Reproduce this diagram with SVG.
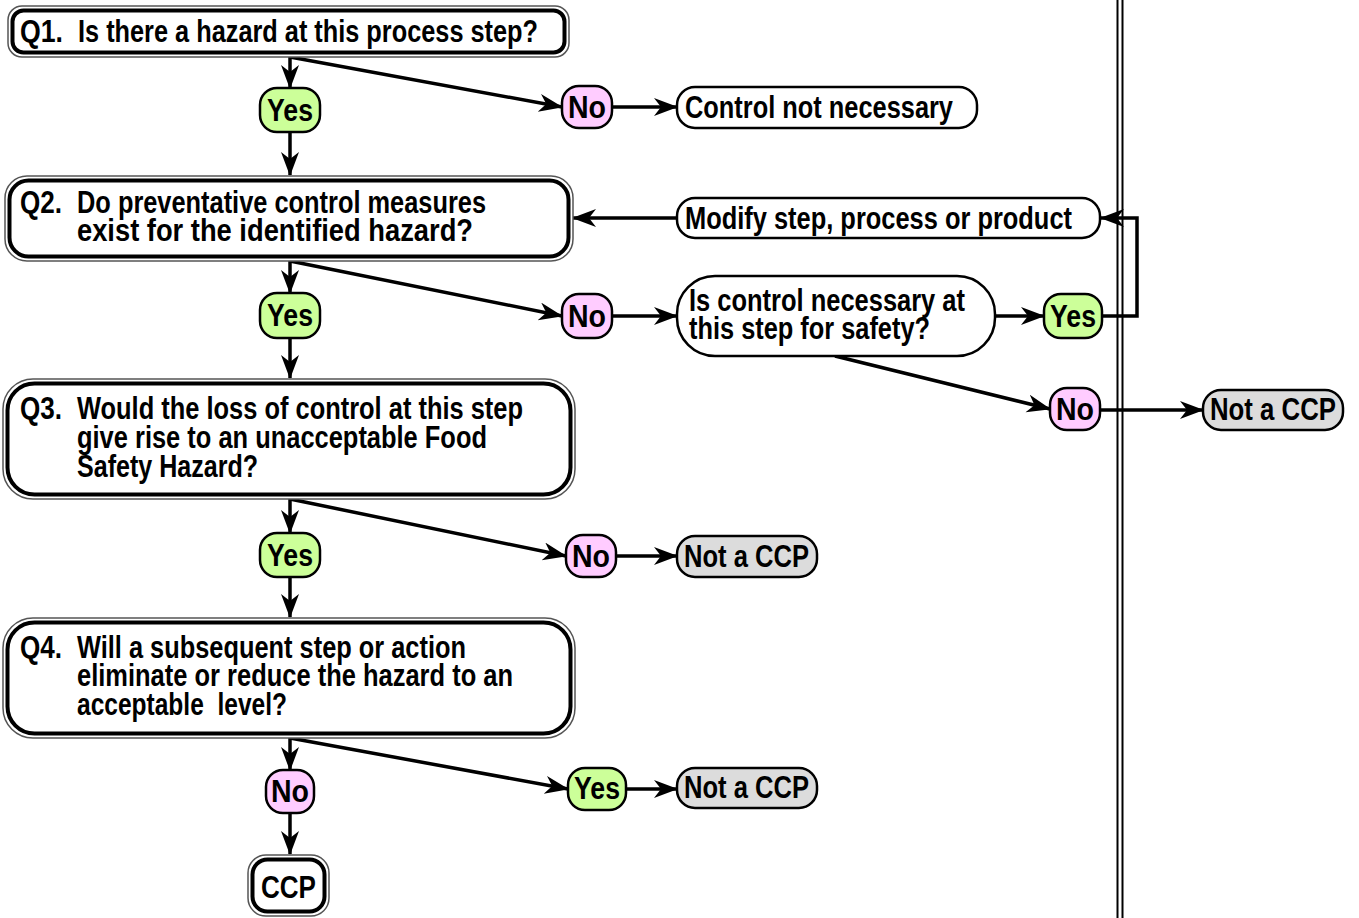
<svg xmlns="http://www.w3.org/2000/svg" width="1359" height="918" viewBox="0 0 1359 918">
<defs>
<style>
text{font-family:"Liberation Sans Narrow","Liberation Sans",Arial,sans-serif;font-weight:bold;font-size:31px;fill:#000}
.c{text-anchor:middle}
.ob{fill:#fff;stroke:#555;stroke-width:1.5}
.ib{fill:#fff;stroke:#000;stroke-width:4}
.box{fill:#fff;stroke:#000;stroke-width:2.5}
.yes{fill:#ccff99;stroke:#000;stroke-width:2.5}
.no{fill:#ffccff;stroke:#000;stroke-width:2.5}
.nc{fill:#dcdcdc;stroke:#000;stroke-width:2.5}
.ln{fill:none;stroke:#000;stroke-width:3.5}
.ar{marker-end:url(#ah)}
</style>
<marker id="ah" markerUnits="userSpaceOnUse" markerWidth="26" markerHeight="20" refX="23" refY="9" orient="auto">
<path d="M0,0 L24,9 L0,18 L7,9 Z" fill="#000"/>
</marker>
</defs>
<rect width="1359" height="918" fill="#fff"/>

<g id="divider">
<line x1="1117.5" y1="0" x2="1117.5" y2="918" stroke="#000" stroke-width="2"/>
<line x1="1122.5" y1="0" x2="1122.5" y2="918" stroke="#000" stroke-width="2"/>
</g>

<g id="connectors">
<path class="ln ar" d="M290,57 V88"/>
<path class="ln ar" d="M290,57 L562,107"/>
<path class="ln ar" d="M612,107 H677"/>
<path class="ln ar" d="M290,132 V175"/>
<path class="ln ar" d="M677,218 H573"/>
<path class="ln ar" d="M290,261 V293"/>
<path class="ln ar" d="M290,261 L562,316"/>
<path class="ln ar" d="M612,316 H677"/>
<path class="ln ar" d="M995,316 H1044"/>
<path class="ln ar" d="M1102,316 H1137 V218 H1101"/>
<path class="ln ar" d="M290,338 V378"/>
<path class="ln ar" d="M835,356 L1050,409"/>
<path class="ln ar" d="M1100,410 H1203"/>
<path class="ln ar" d="M290,499 V533"/>
<path class="ln ar" d="M290,499 L566,556"/>
<path class="ln ar" d="M616,556 H677"/>
<path class="ln ar" d="M290,577 V617"/>
<path class="ln ar" d="M290,738 V770"/>
<path class="ln ar" d="M290,738 L568,789"/>
<path class="ln ar" d="M626,789 H677"/>
<path class="ln ar" d="M290,813 V854"/>
</g>

<g id="q1">
<rect class="ob" x="8" y="6" width="561" height="51" rx="14"/>
<rect class="ib" x="12.5" y="10.5" width="552" height="42" rx="11"/>
<text x="20" y="42" textLength="43" lengthAdjust="spacingAndGlyphs">Q1.</text>
<text x="78" y="42" textLength="460" lengthAdjust="spacingAndGlyphs">Is there a hazard at this process step?</text>
</g>

<g id="q1-yes">
<rect class="yes" x="260" y="88" width="60" height="44" rx="17"/>
<text class="c" x="290" y="121" textLength="46" lengthAdjust="spacingAndGlyphs">Yes</text>
</g>
<g id="q1-no">
<rect class="no" x="562" y="86" width="50" height="42" rx="17"/>
<text class="c" x="587" y="118" textLength="38" lengthAdjust="spacingAndGlyphs">No</text>
</g>
<g id="control-not-necessary">
<rect class="box" x="677" y="87" width="300" height="41" rx="18"/>
<text x="685" y="118" textLength="268" lengthAdjust="spacingAndGlyphs">Control not necessary</text>
</g>

<g id="q2">
<rect class="ob" x="5" y="176" width="568" height="85" rx="22"/>
<rect class="ib" x="9.5" y="180.5" width="559" height="76" rx="19"/>
<text x="20" y="213" textLength="42" lengthAdjust="spacingAndGlyphs">Q2.</text>
<text x="77" y="213" textLength="409" lengthAdjust="spacingAndGlyphs">Do preventative control measures</text>
<text x="77" y="241" textLength="396" lengthAdjust="spacingAndGlyphs">exist for the identified hazard?</text>
</g>

<g id="modify">
<rect class="box" x="677" y="198" width="423" height="40" rx="18"/>
<text x="685" y="229" textLength="387" lengthAdjust="spacingAndGlyphs">Modify step, process or product</text>
</g>

<g id="q2-yes">
<rect class="yes" x="260" y="293" width="60" height="45" rx="17"/>
<text class="c" x="290" y="326" textLength="46" lengthAdjust="spacingAndGlyphs">Yes</text>
</g>
<g id="q2-no">
<rect class="no" x="562" y="294" width="50" height="44" rx="17"/>
<text class="c" x="587" y="327" textLength="38" lengthAdjust="spacingAndGlyphs">No</text>
</g>

<g id="control-necessary">
<rect class="box" x="677" y="276" width="318" height="80" rx="38"/>
<text x="689" y="311" textLength="276" lengthAdjust="spacingAndGlyphs">Is control necessary at</text>
<text x="689" y="339" textLength="241" lengthAdjust="spacingAndGlyphs">this step for safety?</text>
</g>

<g id="cn-yes">
<rect class="yes" x="1044" y="294" width="58" height="44" rx="17"/>
<text class="c" x="1073" y="327" textLength="46" lengthAdjust="spacingAndGlyphs">Yes</text>
</g>
<g id="cn-no">
<rect class="no" x="1050" y="388" width="50" height="42" rx="17"/>
<text class="c" x="1075" y="420" textLength="38" lengthAdjust="spacingAndGlyphs">No</text>
</g>
<g id="not-ccp-1">
<rect class="nc" x="1203" y="390" width="140" height="40" rx="18"/>
<text x="1210" y="420" textLength="126" lengthAdjust="spacingAndGlyphs">Not a CCP</text>
</g>

<g id="q3">
<rect class="ob" x="3" y="379" width="572" height="120" rx="30"/>
<rect class="ib" x="7.5" y="383.5" width="563" height="111" rx="27"/>
<text x="20" y="419" textLength="42" lengthAdjust="spacingAndGlyphs">Q3.</text>
<text x="77" y="419" textLength="446" lengthAdjust="spacingAndGlyphs">Would the loss of control at this step</text>
<text x="77" y="448" textLength="410" lengthAdjust="spacingAndGlyphs">give rise to an unacceptable Food</text>
<text x="77" y="477" textLength="181" lengthAdjust="spacingAndGlyphs">Safety Hazard?</text>
</g>

<g id="q3-yes">
<rect class="yes" x="260" y="533" width="60" height="44" rx="17"/>
<text class="c" x="290" y="566" textLength="46" lengthAdjust="spacingAndGlyphs">Yes</text>
</g>
<g id="q3-no">
<rect class="no" x="566" y="535" width="50" height="42" rx="17"/>
<text class="c" x="591" y="567" textLength="38" lengthAdjust="spacingAndGlyphs">No</text>
</g>
<g id="not-ccp-2">
<rect class="nc" x="677" y="536" width="140" height="41" rx="18"/>
<text x="684" y="567" textLength="125" lengthAdjust="spacingAndGlyphs">Not a CCP</text>
</g>

<g id="q4">
<rect class="ob" x="3" y="618" width="572" height="120" rx="30"/>
<rect class="ib" x="7.5" y="622.5" width="563" height="111" rx="27"/>
<text x="20" y="658" textLength="42" lengthAdjust="spacingAndGlyphs">Q4.</text>
<text x="77" y="658" textLength="389" lengthAdjust="spacingAndGlyphs">Will a subsequent step or action</text>
<text x="77" y="686" textLength="436" lengthAdjust="spacingAndGlyphs">eliminate or reduce the hazard to an</text>
<text x="77" y="715" textLength="210" lengthAdjust="spacingAndGlyphs" xml:space="preserve">acceptable  level?</text>
</g>

<g id="q4-no">
<rect class="no" x="266" y="770" width="48" height="43" rx="17"/>
<text class="c" x="290" y="802" textLength="38" lengthAdjust="spacingAndGlyphs">No</text>
</g>
<g id="q4-yes">
<rect class="yes" x="568" y="768" width="58" height="42" rx="17"/>
<text class="c" x="597" y="799" textLength="46" lengthAdjust="spacingAndGlyphs">Yes</text>
</g>
<g id="not-ccp-3">
<rect class="nc" x="677" y="768" width="140" height="40" rx="18"/>
<text x="684" y="798" textLength="125" lengthAdjust="spacingAndGlyphs">Not a CCP</text>
</g>

<g id="ccp">
<rect class="ob" x="248" y="855" width="81" height="61" rx="18"/>
<rect class="ib" x="252.5" y="859.5" width="72" height="52" rx="15"/>
<text x="261" y="898" textLength="55" lengthAdjust="spacingAndGlyphs">CCP</text>
</g>
</svg>
